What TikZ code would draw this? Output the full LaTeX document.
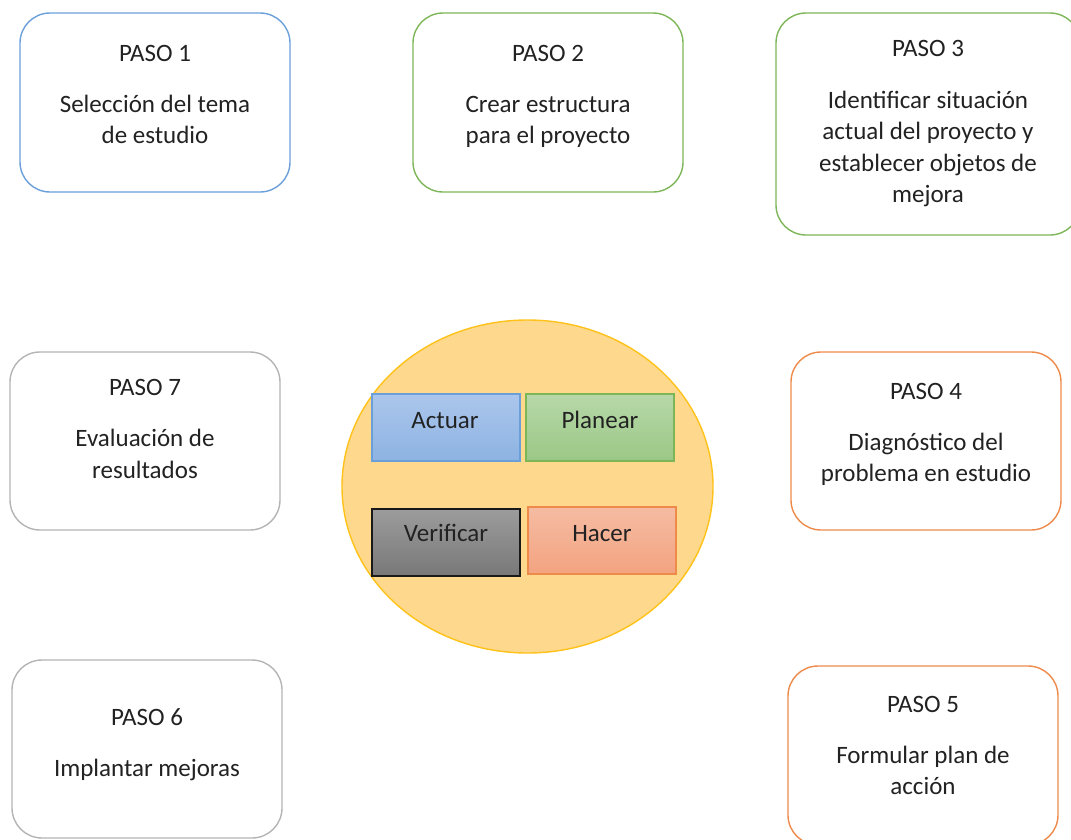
\documentclass[tikz,border=0pt]{standalone}
\usepackage{fontspec}
\setmainfont{Carlito}
\usetikzlibrary{shapes.geometric}
\definecolor{txt}{HTML}{222222}
\definecolor{bluebd}{HTML}{6A9FD9}
\definecolor{greenbd}{HTML}{7DB657}
\definecolor{orangebd}{HTML}{EE8A4A}
\definecolor{graybd}{HTML}{B4B4B4}
\definecolor{cyclefill}{HTML}{FED88C}
\definecolor{cyclebd}{HTML}{FFC21A}
\definecolor{actTop}{HTML}{ABC6EC}
\definecolor{actBot}{HTML}{8DB3E2}
\definecolor{plaTop}{HTML}{B7D8A9}
\definecolor{plaBot}{HTML}{9BC886}
\definecolor{verTop}{HTML}{9C9C9C}
\definecolor{verBot}{HTML}{787878}
\definecolor{hacTop}{HTML}{F5BCA3}
\definecolor{hacBot}{HTML}{F3A380}
\tikzset{
  stepbox/.style={draw, line width=1.4pt, rounded corners=30pt, fill=white, inner sep=0pt},
  steptext/.style={anchor=north, inner sep=0pt, align=center, text=txt,
    font=\fontsize{25pt}{31.5pt}\selectfont},
  phase/.style={draw, line width=1.4pt, inner sep=0pt, minimum width=148pt, minimum height=67pt},
  phasetext/.style={anchor=base, inner sep=0pt, text=txt, font=\fontsize{25pt}{30.5pt}\selectfont}
}
\begin{document}
\begin{tikzpicture}[x=1pt, y=-1pt]
\useasboundingbox (0,0) rectangle (1071,839);
\clip (0,0) rectangle (1071,839);

% seven step boxes
\node[stepbox, draw=bluebd, minimum width=270pt, minimum height=179pt] (p1) at (155,102.5) {};
\node[stepbox, draw=greenbd, minimum width=270pt, minimum height=179pt] (p2) at (548,102.5) {};
\node[stepbox, draw=greenbd, minimum width=304pt, minimum height=222pt] (p3) at (928,124) {};
\node[stepbox, draw=graybd, minimum width=270pt, minimum height=178pt] (p7) at (145,441) {};
\node[stepbox, draw=orangebd, minimum width=270pt, minimum height=178pt] (p4) at (926,441) {};
\node[stepbox, draw=graybd, minimum width=270pt, minimum height=178pt] (p6) at (147,749) {};
\node[stepbox, draw=orangebd, minimum width=270pt, minimum height=179pt] (p5) at (923,755.5) {};

\node[steptext] (t1) at (155,45) {PASO 1\\[19.5pt]Selección del tema\\de estudio};
\node[steptext] (t2) at (548,45) {PASO 2\\[19.5pt]Crear estructura\\para el proyecto};
\node[steptext] (t3) at (928,40) {PASO 3\\[20.5pt]Identificar situación\\actual del proyecto y\\establecer objetos de\\mejora};
\node[steptext] (t7) at (145,379) {PASO 7\\[20pt]Evaluación de\\resultados};
\node[steptext] (t4) at (926,383) {PASO 4\\[19.5pt]Diagnóstico del\\problema en estudio};
\node[steptext] (t6) at (147,708) {PASO 6\\[19.5pt]Implantar mejoras};
\node[steptext] (t5) at (923,696) {PASO 5\\[19.5pt]Formular plan de\\acción};

% PDCA cycle in the centre
\node[ellipse, draw=cyclebd, line width=1.4pt, fill=cyclefill, inner sep=0pt,
      minimum width=371pt, minimum height=333pt] (cyc) at (527.5,486.5) {};

\node[phase, draw=bluebd, top color=actTop, bottom color=actBot] (act) at (446,427.5) {};
\node[phase, draw=greenbd, top color=plaTop, bottom color=plaBot] (pla) at (600,427.5) {};
\node[phase, draw=black!90, top color=verTop, bottom color=verBot] (ver) at (446,542.5) {};
\node[phase, draw=orangebd, top color=hacTop, bottom color=hacBot] (hac) at (602,540.5) {};

\node[phasetext] (actT) at (445,428.5) {Actuar};
\node[phasetext] (plaT) at (600,428.5) {Planear};
\node[phasetext] (verT) at (446,541) {Verificar};
\node[phasetext] (hacT) at (602,541) {Hacer};
\end{tikzpicture}
\end{document}
